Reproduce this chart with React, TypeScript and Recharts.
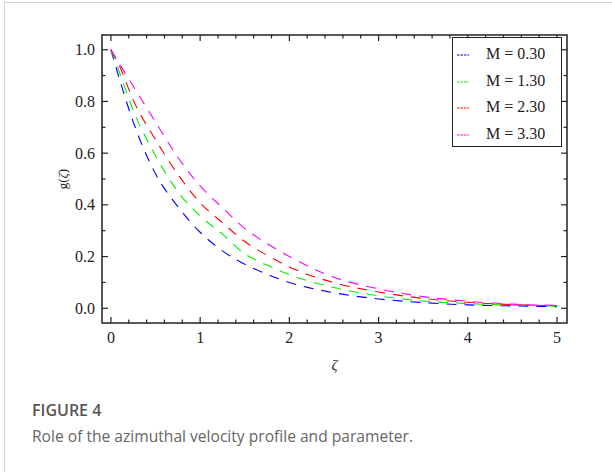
import { LineChart, Line, XAxis, YAxis, ReferenceArea } from "recharts";

const zeta = [0, 0.1, 0.25, 0.5, 0.75, 1, 1.25, 1.5, 1.75, 2, 2.5, 3, 3.5, 4, 4.5, 5];
const gM030 = [1, 0.882, 0.721, 0.52, 0.393, 0.294, 0.222, 0.17, 0.132, 0.1, 0.06, 0.036, 0.022, 0.013, 0.009, 0.006];
const gM130 = [1, 0.908, 0.766, 0.59, 0.451, 0.357, 0.287, 0.211, 0.167, 0.13, 0.08, 0.048, 0.028, 0.018, 0.012, 0.008];
const gM230 = [1, 0.934, 0.805, 0.652, 0.518, 0.408, 0.331, 0.258, 0.205, 0.16, 0.099, 0.063, 0.038, 0.023, 0.014, 0.01];
const gM330 = [1, 0.943, 0.859, 0.72, 0.584, 0.473, 0.389, 0.309, 0.25, 0.2, 0.12, 0.075, 0.045, 0.027, 0.016, 0.011];

const xTicks = [0, 0.2, 0.4, 0.6, 0.8, 1, 1.2, 1.4, 1.6, 1.8, 2, 2.2, 2.4, 2.6, 2.8, 3, 3.2, 3.4, 3.6, 3.8, 4, 4.2, 4.4, 4.6, 4.8, 5];
const yTicks = [0, 0.1, 0.2, 0.3, 0.4, 0.5, 0.6, 0.7, 0.8, 0.9, 1];

const series = [
  { key: "m030", name: "M = 0.30", color: "#0000ff", values: gM030 },
  { key: "m130", name: "M = 1.30", color: "#00f000", values: gM130 },
  { key: "m230", name: "M = 2.30", color: "#ff0000", values: gM230 },
  { key: "m330", name: "M = 3.30", color: "#ff00ff", values: gM330 },
];

const data = zeta.map((z, i) => {
  const row: any = { z };
  series.forEach((s) => (row[s.key] = s.values[i]));
  return row;
});

const PLOT_W = 465;
const PLOT_H = 288;
const INK = "#222";
const SERIF = "'Times New Roman', 'Liberation Serif', serif";

const XTick = (props: any) => {
  const { x, y, payload } = props;
  const v = payload.value;
  const major = Math.abs(v - Math.round(v)) < 1e-6;
  const len = major ? 6 : 3.5;
  return (
    <g>
      <line x1={x} x2={x} y1={y} y2={y - len} stroke={INK} strokeWidth={1.2} />
      <line x1={x} x2={x} y1={y - PLOT_H} y2={y - PLOT_H + len} stroke={INK} strokeWidth={1.2} />
      {major && (
        <text x={x} y={y + 20} textAnchor="middle" fontFamily={SERIF} fontSize={16} fill={INK}>
          {Math.round(v)}
        </text>
      )}
    </g>
  );
};

const YTick = (props: any) => {
  const { x, y, payload } = props;
  const v = payload.value;
  const major = Math.round(v * 10) % 2 === 0;
  const len = major ? 6 : 3.5;
  return (
    <g>
      <line x1={x} x2={x + len} y1={y} y2={y} stroke={INK} strokeWidth={1.2} />
      <line x1={x + PLOT_W} x2={x + PLOT_W - len} y1={y} y2={y} stroke={INK} strokeWidth={1.2} />
      {major && (
        <text x={x - 7} y={y} dy="0.35em" textAnchor="end" fontFamily={SERIF} fontSize={16} fill={INK}>
          {v.toFixed(1)}
        </text>
      )}
    </g>
  );
};

export default function App() {
  return (
    <div style={{ position: "absolute", left: 0, top: 0, width: 612, height: 472, background: "#fff", overflow: "hidden" }}>
      <div style={{ position: "absolute", left: 4, top: 2, width: 700, height: 600, borderTop: "1.5px solid #d4d4d4", borderLeft: "1.5px solid #d4d4d4" }} />
      <div style={{ position: "absolute", left: 0, top: 0 }}>
        <LineChart width={612} height={380} data={data} margin={{ top: 35, right: 45, bottom: 27, left: 0 }}>
          <XAxis
            dataKey="z"
            type="number"
            domain={[-0.1, 5.112]}
            ticks={xTicks}
            interval={0}
            tickSize={0}
            tickMargin={0}
            axisLine={false}
            tickLine={false}
            height={30}
            tick={<XTick />}
            allowDataOverflow
            label={{
              content: (p: any) => {
                const vb = p.viewBox;
                return (
                  <text x={vb.x + vb.width / 2} y={vb.y + 47} textAnchor="middle" fontFamily={SERIF} fontSize={15} fontStyle="italic" fill={INK}>
                    ζ
                  </text>
                );
              },
            }}
          />
          <YAxis
            type="number"
            domain={[-0.057, 1.057]}
            ticks={yTicks}
            interval={0}
            tickSize={0}
            tickMargin={0}
            axisLine={false}
            tickLine={false}
            width={102}
            tick={<YTick />}
            allowDataOverflow
            label={{
              content: (p: any) => {
                const vb = p.viewBox;
                const cx = 62;
                const cy = vb.y + vb.height / 2;
                return (
                  <text x={cx} y={cy} dy="0.35em" textAnchor="middle" transform={`rotate(-90 ${cx} ${cy})`} fontFamily={SERIF} fontSize={13} fill={INK}>
                    g(<tspan fontStyle="italic">ζ</tspan>)
                  </text>
                );
              },
            }}
          />
          <ReferenceArea x1={-0.1} x2={5.112} y1={-0.057} y2={1.057} fill="none" stroke={INK} strokeWidth={1.5} ifOverflow="visible" />
          {series.map((s) => (
            <Line
              key={s.key}
              dataKey={s.key}
              name={s.name}
              type="monotone"
              stroke={s.color}
              strokeWidth={1.1}
              strokeDasharray="10 8"
              dot={false}
              isAnimationActive={false}
            />
          ))}
        </LineChart>
      </div>
      <div
        style={{
          position: "absolute",
          left: 452,
          top: 37,
          width: 110,
          height: 110,
          border: `1.2px solid ${INK}`,
          background: "#fff",
          boxSizing: "border-box",
          paddingTop: 3,
        }}
      >
        {series.map((s) => (
          <div key={s.key} style={{ position: "relative", height: 26.6 }}>
            <svg width={14} height={4} style={{ position: "absolute", left: 4, top: 12 }}>
              <line x1={0} x2={12} y1={2} y2={2} stroke={s.color} strokeWidth={1} strokeDasharray="2.5 1" />
            </svg>
            <span
              style={{
                position: "absolute",
                left: 33,
                top: 4,
                fontFamily: SERIF,
                fontSize: 16,
                color: INK,
                lineHeight: "18px",
                whiteSpace: "nowrap",
              }}
            >
              {s.name}
            </span>
          </div>
        ))}
      </div>
      <div style={{ position: "absolute", left: 32, top: 400, fontFamily: "'Open Sans', sans-serif", fontSize: 16, fontWeight: 600, color: "#555", lineHeight: "20px" }}>
        FIGURE 4
      </div>
      <div style={{ position: "absolute", left: 32, top: 426, fontFamily: "'Open Sans', sans-serif", fontSize: 15.6, color: "#666", lineHeight: "20px", whiteSpace: "nowrap" }}>
        Role of the azimuthal velocity profile and parameter.
      </div>
    </div>
  );
}
